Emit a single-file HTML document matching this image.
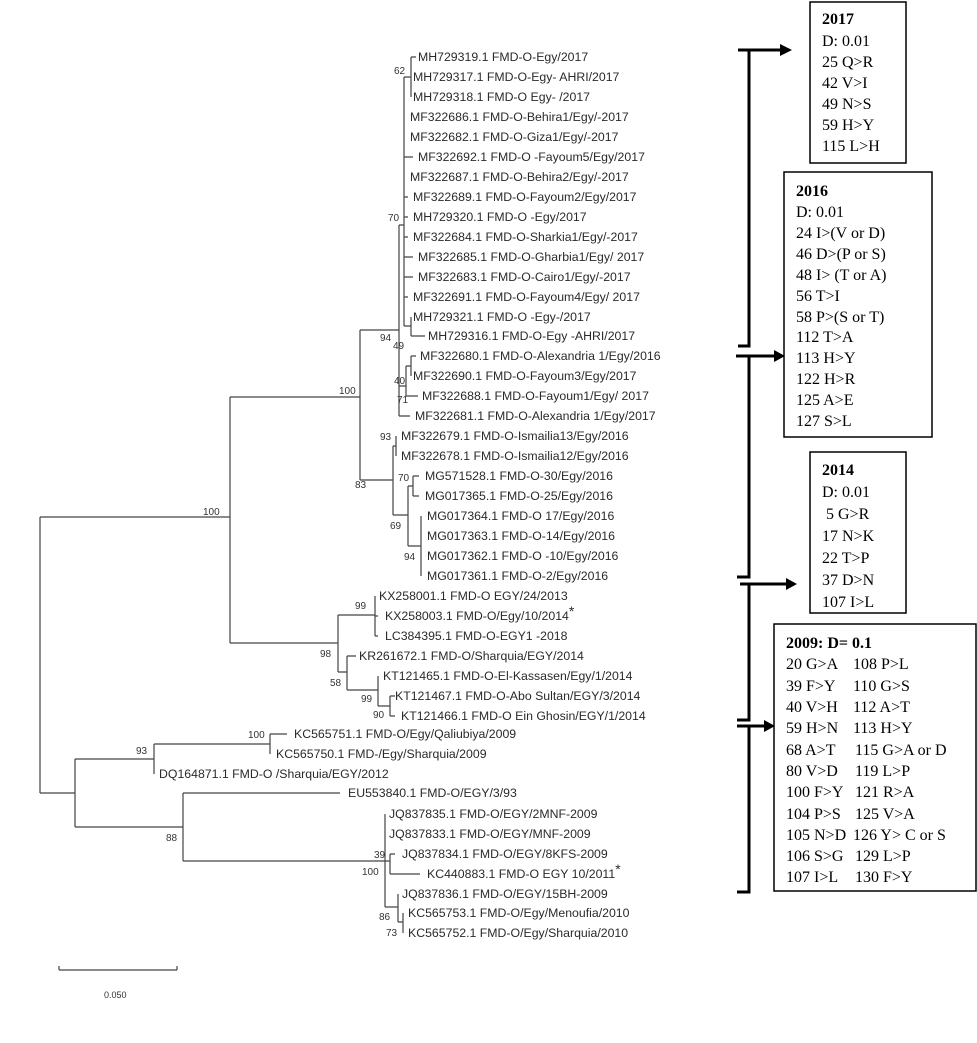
<!DOCTYPE html>
<html><head><meta charset="utf-8"><style>
html,body{margin:0;padding:0;background:#fff;}
svg{display:block;}
.l{font-family:"Liberation Sans",Arial,sans-serif;font-size:12.3px;fill:#2a2a2a;}
.b{font-family:"Liberation Sans",Arial,sans-serif;font-size:10px;fill:#333;}
.t{font-family:"Liberation Serif","Times New Roman",serif;font-size:16px;fill:#000;}
.tb{font-weight:bold;}
</style></head><body>
<svg width="977" height="1043" viewBox="0 0 977 1043" xmlns="http://www.w3.org/2000/svg">
<g stroke="#444" stroke-width="1.2" fill="none">
<!-- root -->
<path d="M40 517V793M40 517H230M40 793H75"/>
<!-- A -->
<path d="M230 397V643M230 397H360M230 643H338"/>
<!-- B -->
<path d="M360 330V480M360 330H399M360 480H393"/>
<!-- D -->
<path d="M399 225V416M399 225H404M399 386H406M399 416H410"/>
<!-- E polytomy -->
<path d="M404 77V326M404 77H411M411 57V97M411 57H416M404 157H413M404 197H408M404 217H408M404 237H408M404 257H413M404 277H413M404 297H408M404 326H411M411 317V336M411 336H425"/>
<!-- node 40 -->
<path d="M406 366V396M406 366H411M411 356V376M411 356H416M406 396H418"/>
<!-- 83 -->
<path d="M393 446V515M393 446H396M396 436V456M393 515H408M408 486V546M408 486H413M413 476V496M413 476H419M413 496H419M408 546H421M421 516V576"/>
<!-- C -->
<path d="M338 615V672M338 615H375M375 596V636M375 616H378M375 636H378M338 672H347M347 656V690M347 656H356M347 690H378M378 676V706M378 706H390M390 696V716M390 696H395M390 716H395"/>
<!-- lower -->
<path d="M75 759V827M75 759H154M154 744V774M154 744H270M270 734V754M270 734H287M75 827H183M183 793V861M183 793H340M183 861H385M385 814V907M385 861H390M390 854V874M390 854H395M390 874H420M385 907H398M398 894V922M398 922H403M403 913V933"/>
<!-- scale -->
<path d="M59 970H177M59 966V970M177 966V970"/>
</g>
<g class="l">
<text x="418" y="61">MH729319.1 FMD-O-Egy/2017</text>
<text x="413" y="81">MH729317.1 FMD-O-Egy- AHRI/2017</text>
<text x="413" y="101">MH729318.1 FMD-O Egy- /2017</text>
<text x="410" y="121">MF322686.1 FMD-O-Behira1/Egy/-2017</text>
<text x="410" y="141">MF322682.1 FMD-O-Giza1/Egy/-2017</text>
<text x="418" y="161">MF322692.1 FMD-O -Fayoum5/Egy/2017</text>
<text x="410" y="181">MF322687.1 FMD-O-Behira2/Egy/-2017</text>
<text x="413" y="201">MF322689.1 FMD-O-Fayoum2/Egy/2017</text>
<text x="413" y="221">MH729320.1 FMD-O -Egy/2017</text>
<text x="413" y="241">MF322684.1 FMD-O-Sharkia1/Egy/-2017</text>
<text x="418" y="261">MF322685.1 FMD-O-Gharbia1/Egy/ 2017</text>
<text x="418" y="281">MF322683.1 FMD-O-Cairo1/Egy/-2017</text>
<text x="413" y="301">MF322691.1 FMD-O-Fayoum4/Egy/ 2017</text>
<text x="413" y="321">MH729321.1 FMD-O -Egy-/2017</text>
<text x="428" y="340">MH729316.1 FMD-O-Egy -AHRI/2017</text>
<text x="420" y="360">MF322680.1 FMD-O-Alexandria 1/Egy/2016</text>
<text x="413" y="380">MF322690.1 FMD-O-Fayoum3/Egy/2017</text>
<text x="422" y="400">MF322688.1 FMD-O-Fayoum1/Egy/ 2017</text>
<text x="415" y="420">MF322681.1 FMD-O-Alexandria 1/Egy/2017</text>
<text x="401" y="440">MF322679.1 FMD-O-Ismailia13/Egy/2016</text>
<text x="401" y="460">MF322678.1 FMD-O-Ismailia12/Egy/2016</text>
<text x="425" y="480">MG571528.1 FMD-O-30/Egy/2016</text>
<text x="425" y="500">MG017365.1 FMD-O-25/Egy/2016</text>
<text x="427" y="520">MG017364.1 FMD-O 17/Egy/2016</text>
<text x="427" y="540">MG017363.1 FMD-O-14/Egy/2016</text>
<text x="427" y="560">MG017362.1 FMD-O -10/Egy/2016</text>
<text x="427" y="580">MG017361.1 FMD-O-2/Egy/2016</text>
<text x="379" y="600">KX258001.1 FMD-O EGY/24/2013</text>
<text x="385" y="620">KX258003.1 FMD-O/Egy/10/2014<tspan dy="-4" font-size="14">*</tspan></text>
<text x="385" y="640">LC384395.1 FMD-O-EGY1 -2018</text>
<text x="359" y="660">KR261672.1 FMD-O/Sharquia/EGY/2014</text>
<text x="383" y="680">KT121465.1 FMD-O-El-Kassasen/Egy/1/2014</text>
<text x="395" y="700">KT121467.1 FMD-O-Abo Sultan/EGY/3/2014</text>
<text x="401" y="720">KT121466.1 FMD-O Ein Ghosin/EGY/1/2014</text>
<text x="294" y="738">KC565751.1 FMD-O/Egy/Qaliubiya/2009</text>
<text x="276" y="758">KC565750.1 FMD-/Egy/Sharquia/2009</text>
<text x="159" y="778">DQ164871.1 FMD-O /Sharquia/EGY/2012</text>
<text x="348" y="797">EU553840.1 FMD-O/EGY/3/93</text>
<text x="389" y="818">JQ837835.1 FMD-O/EGY/2MNF-2009</text>
<text x="389" y="838">JQ837833.1 FMD-O/EGY/MNF-2009</text>
<text x="402" y="858">JQ837834.1 FMD-O/EGY/8KFS-2009</text>
<text x="427" y="878">KC440883.1 FMD-O EGY 10/2011<tspan dy="-4" font-size="14">*</tspan></text>
<text x="402" y="898">JQ837836.1 FMD-O/EGY/15BH-2009</text>
<text x="408" y="917">KC565753.1 FMD-O/Egy/Menoufia/2010</text>
<text x="408" y="937">KC565752.1 FMD-O/Egy/Sharquia/2010</text>
</g>
<g class="b">
<text x="394" y="74">62</text>
<text x="388" y="221">70</text>
<text x="380" y="341">94</text>
<text x="393" y="349">49</text>
<text x="394" y="384">40</text>
<text x="397" y="403">71</text>
<text x="339" y="394">100</text>
<text x="380" y="440">93</text>
<text x="355" y="488">83</text>
<text x="398" y="481">70</text>
<text x="390" y="529">69</text>
<text x="404" y="560">94</text>
<text x="203" y="515">100</text>
<text x="355" y="609">99</text>
<text x="320" y="657">98</text>
<text x="330" y="686">58</text>
<text x="361" y="702">99</text>
<text x="373" y="718">90</text>
<text x="248" y="738">100</text>
<text x="136" y="754">93</text>
<text x="166" y="841">88</text>
<text x="374" y="858">39</text>
<text x="362" y="875">100</text>
<text x="379" y="920">86</text>
<text x="386" y="936">73</text>
<text x="104" y="998" font-size="9">0.050</text>
</g>
<!-- brackets and arrows -->
<g stroke="#000" stroke-width="3" fill="none">
<path d="M738 50H749V346H738"/>
<path d="M738 50H782"/>
<path d="M736 356H776M749 356V577H737"/>
<path d="M740 584H788M749 584V720H737"/>
<path d="M737 726H766M749 726V892H737"/>
</g>
<g fill="#000">
<polygon points="780,44 792,50 780,56"/>
<polygon points="774,350 785,356 774,362"/>
<polygon points="786,578 797,584 786,590"/>
<polygon points="764,720 775,726 764,732"/>
</g>
<g stroke="#000" stroke-width="1.5" fill="#fff">
<rect x="810" y="2" width="96" height="161"/>
<rect x="784" y="172" width="148" height="265"/>
<rect x="810" y="452" width="96" height="161"/>
<rect x="774" y="624" width="202" height="267"/>
</g>
<g class="t">
<text x="822" y="24" class="tb">2017</text>
<text x="822" y="46">D: 0.01</text>
<text x="822" y="67">25 Q&gt;R</text>
<text x="822" y="88">42 V&gt;I</text>
<text x="822" y="109">49 N&gt;S</text>
<text x="822" y="130">59 H&gt;Y</text>
<text x="822" y="151">115 L&gt;H</text>

<text x="796" y="196" class="tb">2016</text>
<text x="796" y="217">D: 0.01</text>
<text x="796" y="238">24 I&gt;(V or D)</text>
<text x="796" y="259">46 D&gt;(P or S)</text>
<text x="796" y="280">48 I&gt; (T or A)</text>
<text x="796" y="301">56 T&gt;I</text>
<text x="796" y="322">58 P&gt;(S or T)</text>
<text x="796" y="342">112 T&gt;A</text>
<text x="796" y="363">113 H&gt;Y</text>
<text x="796" y="384">122 H&gt;R</text>
<text x="796" y="405">125 A&gt;E</text>
<text x="796" y="426">127 S&gt;L</text>

<text x="822" y="475" class="tb">2014</text>
<text x="822" y="497">D: 0.01</text>
<text x="826" y="519">5 G&gt;R</text>
<text x="822" y="541">17 N&gt;K</text>
<text x="822" y="563">22 T&gt;P</text>
<text x="822" y="585">37 D&gt;N</text>
<text x="822" y="607">107 I&gt;L</text>

<text x="786" y="648" class="tb">2009: D= 0.1</text>
<text x="786" y="669">20 G&gt;A</text><text x="853" y="669">108 P&gt;L</text>
<text x="786" y="691">39 F&gt;Y</text><text x="853" y="691">110 G&gt;S</text>
<text x="786" y="712">40 V&gt;H</text><text x="853" y="712">112 A&gt;T</text>
<text x="786" y="733">59 H&gt;N</text><text x="853" y="733">113 H&gt;Y</text>
<text x="786" y="755">68 A&gt;T</text><text x="855" y="755">115 G&gt;A or D</text>
<text x="786" y="776">80 V&gt;D</text><text x="855" y="776">119 L&gt;P</text>
<text x="786" y="797">100 F&gt;Y</text><text x="855" y="797">121 R&gt;A</text>
<text x="786" y="819">104 P&gt;S</text><text x="855" y="819">125 V&gt;A</text>
<text x="786" y="840">105 N&gt;D</text><text x="853" y="840">126 Y&gt; C or S</text>
<text x="786" y="861">106 S&gt;G</text><text x="855" y="861">129 L&gt;P</text>
<text x="786" y="882">107 I&gt;L</text><text x="855" y="882">130 F&gt;Y</text>
</g>
</svg>
</body></html>
